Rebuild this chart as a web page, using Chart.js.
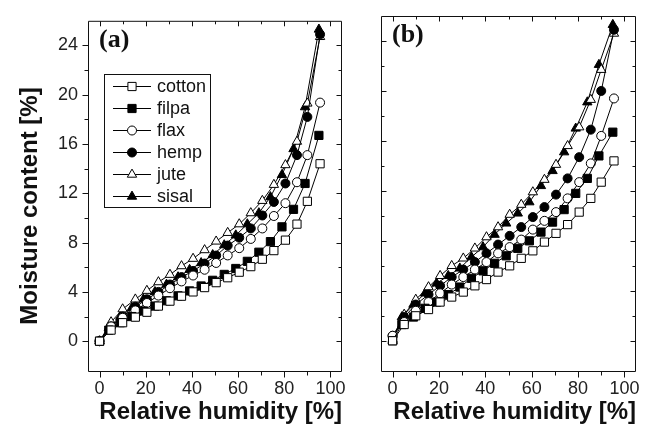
<!DOCTYPE html>
<html><head><meta charset="utf-8">
<script src="https://cdn.jsdelivr.net/npm/chart.js@4.4.1/dist/chart.umd.min.js"></script>
<style>
html,body{margin:0;padding:0;background:#fff;}
#wrap{position:relative;width:646px;height:438px;}
.cv{position:absolute;left:0;top:0;width:646px;height:438px;}
</style></head><body>
<div id="wrap"><div class="cv"><canvas id="ca" width="646" height="438"></canvas></div><div class="cv"><canvas id="cb" width="646" height="438"></canvas></div></div>
<script>
// ---------- data ----------
const seriesNames = ['cotton', 'filpa', 'flax', 'hemp', 'jute', 'sisal'];
// relative humidity steps (%)
const rhOpen   = [0, 5, 10, 15.5, 20.5, 25.5, 30.5, 35.5, 40.5, 45.5, 50.5, 55.5, 60.5, 65.5, 70.5, 75.5, 80.5, 85.5, 90, 95.5];
const rhFilled = [0, 4, 9, 14, 19, 24, 29, 34, 39, 44, 49, 54, 59, 64, 69, 74, 79, 84, 89, 95];

// panel (a)
const cottonA = [0, 0.9, 1.5, 1.95, 2.35, 2.85, 3.25, 3.65, 4.0, 4.35, 4.75, 5.15, 5.6, 6.05, 6.65, 7.35, 8.2, 9.5, 11.35, 14.4];
const filpaA  = [0, 0.9, 1.5, 2.0, 2.45, 2.85, 3.28, 3.68, 4.08, 4.48, 4.94, 5.42, 5.9, 6.48, 7.22, 8.08, 9.28, 10.7, 12.8, 16.7];
const flaxA   = [0, 1.2, 1.9, 2.5, 3.1, 3.7, 4.3, 4.85, 5.33, 5.8, 6.35, 6.96, 7.55, 8.3, 9.15, 10.16, 11.2, 12.9, 15.1, 19.36];
const hempA   = [0, 1.2, 2.0, 2.8, 3.4, 4.0, 4.6, 5.2, 5.7, 6.3, 6.95, 7.76, 8.4, 9.15, 10.2, 11.3, 12.8, 15.1, 18.2, 24.9];
const juteA   = [0, 1.55, 2.6, 3.4, 4.1, 4.8, 5.4, 6.1, 6.7, 7.4, 8.1, 8.8, 9.5, 10.4, 11.4, 12.7, 14.3, 16.2, 19.3, 24.7];
const sisalA  = [0, 1.1, 2.0, 2.7, 3.4, 4.0, 4.6, 5.2, 5.8, 6.35, 7.0, 7.8, 8.6, 9.5, 10.4, 11.7, 13.5, 15.6, 19.0, 25.3];

// panel (b)
const cottonB = [0, 1.3, 2.0, 2.5, 3.1, 3.5, 3.9, 4.4, 4.9, 5.5, 6.0, 6.6, 7.2, 7.9, 8.6, 9.3, 10.3, 11.4, 12.7, 14.4];
const filpaB  = [0, 1.3, 1.9, 2.6, 3.1, 3.7, 4.3, 5.0, 5.6, 6.2, 6.8, 7.4, 8.0, 8.7, 9.5, 10.5, 11.8, 13.0, 14.8, 16.7];
const flaxB   = [0.4, 1.5, 2.4, 3.1, 3.8, 4.5, 5.1, 5.7, 6.3, 7.0, 7.5, 8.1, 8.9, 9.6, 10.3, 11.4, 12.7, 14.2, 16.4, 19.4];
const hempB   = [0.4, 1.9, 2.9, 3.7, 4.4, 5.1, 5.7, 6.3, 7.0, 7.7, 8.4, 9.1, 9.9, 10.7, 11.7, 13.0, 14.7, 16.9, 20.0, 24.9];
const juteB   = [0.1, 2.1, 3.3, 4.3, 5.2, 6.0, 6.6, 7.4, 8.3, 9.1, 10.1, 10.9, 11.9, 12.9, 14.1, 15.6, 17.1, 19.3, 21.7, 24.6];
const sisalB  = [0, 1.9, 2.9, 3.8, 4.6, 5.2, 5.8, 6.7, 7.5, 8.5, 9.4, 10.2, 11.1, 12.4, 13.6, 15.1, 17.0, 19.1, 22.1, 25.3];

// ticks
const xMajorTicks = [0, 20, 40, 60, 80, 100];
const xMinorTicks = [10, 30, 50, 70, 90];
const yMajorTicks = [0, 4, 8, 12, 16, 20, 24];
const yMinorTicks = [2, 6, 10, 14, 18, 22];
const panelLabels = ['(a)', '(b)'];
const xTitle = 'Relative humidity [%]';
const yTitle = 'Moisture content [%]';

// ---------- styles ----------
const styleOf = {
  cotton: {pointStyle: 'rect', radius: 5.8, fill: '#fff'},
  filpa:  {pointStyle: 'rect', radius: 5.8, fill: '#000'},
  flax:   {pointStyle: 'circle', radius: 4.5, fill: '#fff'},
  hemp:   {pointStyle: 'circle', radius: 4.5, fill: '#000'},
  jute:   {pointStyle: 'triangle', radius: 5.4, fill: '#fff'},
  sisal:  {pointStyle: 'triangle', radius: 5.4, fill: '#000'}
};
const rhOf = {cotton: rhOpen, filpa: rhFilled, flax: rhOpen, hemp: rhOpen, jute: rhOpen, sisal: rhFilled};

function makeDatasets(valsList) {
  return seriesNames.map((name, k) => {
    const s = styleOf[name];
    const rh = rhOf[name];
    return {
      label: name,
      data: valsList[k].map((v, i) => ({x: rh[i], y: v})),
      showLine: true,
      borderColor: '#000',
      borderWidth: 1,
      tension: 0,
      pointStyle: s.pointStyle,
      pointRadius: s.radius,
      pointBackgroundColor: s.fill,
      pointBorderColor: '#000',
      pointBorderWidth: 1,
      clip: false
    };
  });
}

const titleFontCss = 'bold 24px "Liberation Sans"';

const frameAndTicks = {
  id: 'frameAndTicks',
  afterDatasetsDraw(chart, args, o) {
    const {ctx, chartArea: a, scales: {x, y}} = chart;
    ctx.save();
    ctx.strokeStyle = '#111';
    ctx.lineWidth = 1;
    ctx.beginPath();
    ctx.rect(a.left + 0.5, a.top + 0.5, a.right - a.left - 1, a.bottom - a.top - 1);
    ctx.stroke();
    const L = a.left + 0.5, R = a.right - 0.5, T = a.top + 0.5, B = a.bottom - 0.5;
    ctx.beginPath();
    const xt = (vals, len) => vals.forEach(v => {
      const px = Math.round(x.getPixelForValue(v)) + 0.5;
      ctx.moveTo(px, B); ctx.lineTo(px, B + len);      // bottom outward
      ctx.moveTo(px, T); ctx.lineTo(px, T + len - 1);  // top inward
    });
    xt(xMajorTicks, 6); xt(xMinorTicks, 4);
    const yt = (vals, len) => vals.forEach(v => {
      const py = Math.round(y.getPixelForValue(v)) + 0.5;
      if (o.leftOut) { ctx.moveTo(L, py); ctx.lineTo(L - len, py); }
      else { ctx.moveTo(L, py); ctx.lineTo(L + len - 1, py); }
      ctx.moveTo(R, py); ctx.lineTo(R - len + 1, py);
    });
    yt(yMajorTicks, 6); yt(yMinorTicks, 4);
    ctx.stroke();
    // panel label
    ctx.fillStyle = '#111';
    ctx.font = 'bold 26px "Liberation Serif"';
    ctx.textBaseline = 'alphabetic';
    ctx.textAlign = 'left';
    ctx.fillText(o.label, a.left + 11, a.top + 26);
    // y title (only on the left panel)
    if (o.yTitle) {
      ctx.save();
      ctx.translate(30, 206);
      ctx.rotate(-Math.PI / 2);
      ctx.font = titleFontCss;
      ctx.textAlign = 'center';
      ctx.textBaseline = 'middle';
      ctx.fillStyle = '#111';
      ctx.fillText(o.yTitle, 0, 0);
      ctx.restore();
    }
    // legend
    if (o.legend) {
      const bx = 104.5, by = 74.5, bw = 106, bh = 133;
      ctx.strokeStyle = '#111';
      ctx.strokeRect(bx, by, bw, bh);
      ctx.font = '18px "Liberation Sans"';
      ctx.textBaseline = 'middle';
      chart.data.datasets.forEach((ds, i) => {
        const ry = Math.round(by + 11 + i * 22) + 0.5;
        ctx.strokeStyle = '#000';
        ctx.beginPath(); ctx.moveTo(113, ry); ctx.lineTo(151, ry); ctx.stroke();
        ctx.fillStyle = ds.pointBackgroundColor;
        ctx.strokeStyle = '#000';
        ctx.lineWidth = 1;
        Chart.helpers.drawPoint(ctx, {pointStyle: ds.pointStyle, radius: ds.pointRadius, rotation: 0, borderWidth: 1}, 132, ry);
        ctx.fillStyle = '#111';
        ctx.fillText(ds.label, 157, ry + 1);
      });
    }
    ctx.restore();
  }
};

const tickFont = {family: 'Liberation Sans', size: 18};
const titleFont = {family: 'Liberation Sans', size: 24, weight: 'bold'};

function makeChart(id, valsList, isA) {
  return new Chart(document.getElementById(id), {
    type: 'scatter',
    data: {datasets: makeDatasets(valsList)},
    options: {
      responsive: false,
      animation: false,
      layout: {padding: isA ? {left: 0, top: 16, right: 304, bottom: 0} : {left: 381, top: 16, right: 10, bottom: 0}},
      plugins: {
        legend: {display: false},
        tooltip: {enabled: false},
        frameAndTicks: {leftOut: isA, label: isA ? panelLabels[0] : panelLabels[1], legend: isA, yTitle: isA ? yTitle : null}
      },
      scales: {
        x: {
          type: 'linear', position: 'bottom', min: -5, max: 105,
          afterBuildTicks: s => { s.ticks = xMajorTicks.map(v => ({value: v})); },
          afterFit: s => { s.height = 66; },
          grid: {display: false, drawTicks: false},
          border: {display: false},
          ticks: {font: tickFont, color: '#222', padding: 6, maxRotation: 0},
          title: {display: true, text: xTitle, font: titleFont, color: '#111', align: 'end', padding: {top: 0, bottom: 11}}
        },
        y: {
          type: 'linear', position: 'left', min: -2.5, max: 26,
          display: isA,
          afterBuildTicks: s => { s.ticks = yMajorTicks.map(v => ({value: v})); },
          afterFit: s => { s.width = isA ? 88 : 0; },
          grid: {display: false, drawTicks: false},
          border: {display: false},
          ticks: {font: tickFont, color: '#222', padding: 10},
          title: {display: false}
        }
      }
    },
    plugins: [frameAndTicks]
  });
}

makeChart('ca', [cottonA, filpaA, flaxA, hempA, juteA, sisalA], true);
makeChart('cb', [cottonB, filpaB, flaxB, hempB, juteB, sisalB], false);
</script>
</body></html>
